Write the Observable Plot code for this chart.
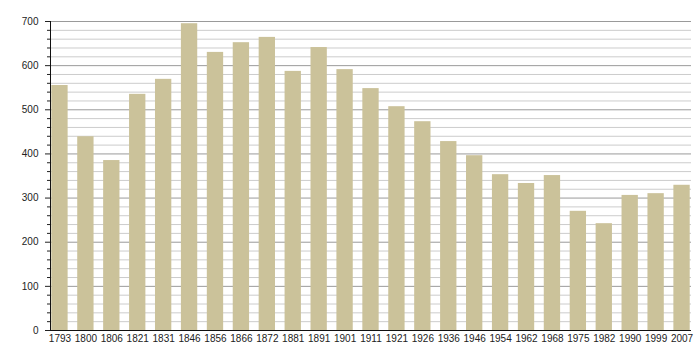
<!DOCTYPE html>
<html>
<head>
<meta charset="utf-8">
<script src="https://cdn.jsdelivr.net/npm/d3@7"></script>
<script src="https://cdn.jsdelivr.net/npm/@observablehq/plot@0.6"></script>
<style>
  html, body { margin: 0; padding: 0; background: #fff; }
  #chart svg { display: block; }
</style>
</head>
<body>
<div id="chart"></div>
<script>
const years = ["1793","1800","1806","1821","1831","1846","1856","1866","1872","1881","1891","1901","1911","1921","1926","1936","1946","1954","1962","1968","1975","1982","1990","1999","2007"];
const population = [555,439,385,535,569,695,630,652,664,587,641,591,548,507,473,428,396,353,333,351,270,242,306,310,329];
const majorTicks = [0,100,200,300,400,500,600,700];
const minorTicks = d3.range(0, 701, 20).filter(v => v % 100 !== 0);

const data = years.map((y, i) => ({year: y, value: population[i]}));

const chart = Plot.plot({
  width: 700,
  height: 360,
  marginLeft: 50,
  marginRight: 9,
  marginTop: 21,
  marginBottom: 30,
  style: {fontFamily: "Liberation Sans, Arial, sans-serif", fontSize: "10px", color: "#222", background: "#fff"},
  x: {domain: years, paddingInner: 0.37, paddingOuter: 0.05, round: false, label: null},
  y: {domain: [0, 700], label: null},
  marks: [
    Plot.ruleY(minorTicks, {stroke: "#cccccc", strokeWidth: 1}),
    Plot.ruleY(majorTicks, {stroke: "#9a9a9a", strokeWidth: 1}),
    Plot.barY(data, {x: "year", y: "value", fill: "#cbc29a"}),
    Plot.axisY(minorTicks, {tickSize: 3, tickFormat: () => "", stroke: "#222"}),
    Plot.axisY(majorTicks, {tickSize: 5, tickPadding: 7, fontSize: 10, fill: "#222", stroke: "#222"}),
    Plot.axisX({tickSize: 0, tickPadding: 4, fontSize: 10, fill: "#222"}),
    Plot.frame({anchor: "left", stroke: "#111"}),
    Plot.ruleY([0], {stroke: "#111"})
  ]
});
document.getElementById("chart").append(chart);
</script>
</body>
</html>
